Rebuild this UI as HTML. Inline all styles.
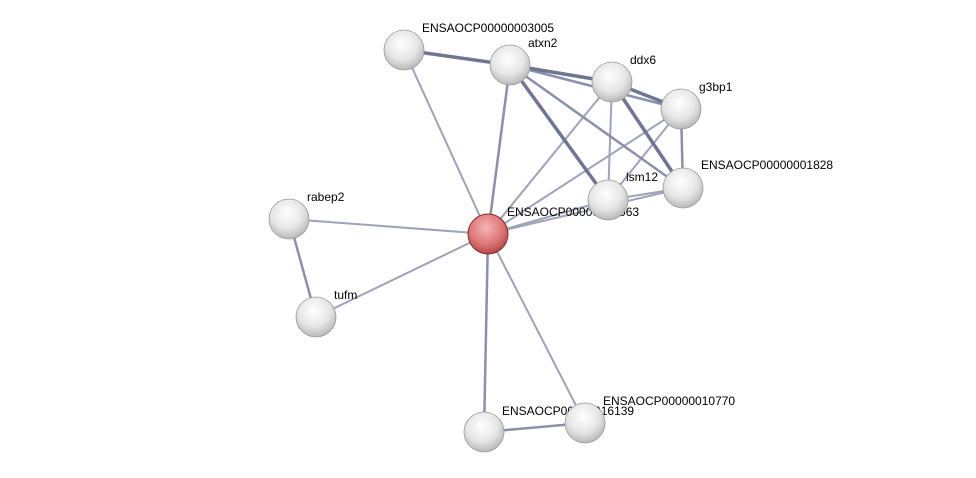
<!DOCTYPE html>
<html><head><meta charset="utf-8"><style>
html,body{margin:0;padding:0;background:#fff;width:976px;height:478px;overflow:hidden}
text{font-family:"Liberation Sans",sans-serif;font-size:12px;fill:#000}
</style></head><body>
<svg width="976" height="478" viewBox="0 0 976 478" xmlns="http://www.w3.org/2000/svg">
<defs>
<radialGradient id="g" cx="0.45" cy="0.35" r="0.65">
<stop offset="0" stop-color="#ffffff"/><stop offset="0.6" stop-color="#e6e6e6"/><stop offset="1" stop-color="#b8b8b8"/>
</radialGradient>
<radialGradient id="r" cx="0.45" cy="0.35" r="0.65">
<stop offset="0" stop-color="#f4b4b4"/><stop offset="0.6" stop-color="#e07a7a"/><stop offset="1" stop-color="#b54848"/>
</radialGradient>
</defs>
<g stroke-linecap="round">
<g stroke="#9da3b8" stroke-width="2">
<line x1="488" y1="234" x2="404" y2="50"/>
<line x1="488" y1="234" x2="289" y2="219"/>
<line x1="488" y1="234" x2="585" y2="423"/>
<line x1="488" y1="234" x2="316" y2="317"/>
<line x1="488" y1="234" x2="612" y2="82"/>
<line x1="488" y1="234" x2="681" y2="109"/>
<line x1="488" y1="234" x2="683" y2="188"/>
<line x1="488" y1="234" x2="608" y2="200"/>
<line x1="612" y1="82" x2="608" y2="200"/>
<line x1="681" y1="109" x2="608" y2="200"/>
<line x1="608" y1="200" x2="683" y2="188"/>
</g>
<g stroke="#8a90aa" stroke-width="2.5">
<line x1="488" y1="234" x2="510" y2="65"/>
<line x1="488" y1="234" x2="484" y2="432"/>
<line x1="289" y1="219" x2="316" y2="317"/>
<line x1="510" y1="65" x2="683" y2="188"/>
<line x1="510" y1="65" x2="681" y2="109"/>
<line x1="681" y1="109" x2="683" y2="188"/>
<line x1="484" y1="432" x2="585" y2="423"/>
</g>
<g stroke="#6f7592" stroke-width="3.5">
<line x1="404" y1="50" x2="510" y2="65"/>
<line x1="510" y1="65" x2="612" y2="82"/>
<line x1="612" y1="82" x2="681" y2="109"/>
<line x1="510" y1="65" x2="608" y2="200"/>
<line x1="612" y1="82" x2="683" y2="188"/>
</g>
</g>
<text x="507" y="216">ENSAOCP00000016963</text>
<text x="502" y="415">ENSAOCP00000016139</text>
<g>
<circle cx="404" cy="50" r="20" fill="url(#g)" stroke="#999" stroke-width="0.8"/>
<circle cx="510" cy="65" r="20" fill="url(#g)" stroke="#999" stroke-width="0.8"/>
<circle cx="612" cy="82" r="20" fill="url(#g)" stroke="#999" stroke-width="0.8"/>
<circle cx="681" cy="109" r="20" fill="url(#g)" stroke="#999" stroke-width="0.8"/>
<circle cx="683" cy="188" r="20" fill="url(#g)" stroke="#999" stroke-width="0.8"/>
<circle cx="608" cy="200" r="20" fill="url(#g)" stroke="#999" stroke-width="0.8"/>
<circle cx="289" cy="219" r="20" fill="url(#g)" stroke="#999" stroke-width="0.8"/>
<circle cx="316" cy="317" r="20" fill="url(#g)" stroke="#999" stroke-width="0.8"/>
<circle cx="484" cy="432" r="20" fill="url(#g)" stroke="#999" stroke-width="0.8"/>
<circle cx="585" cy="423" r="20" fill="url(#g)" stroke="#999" stroke-width="0.8"/>
<circle cx="488" cy="234" r="20" fill="url(#r)" stroke="#8a2a2a" stroke-width="1"/>
</g>
<text x="422" y="32">ENSAOCP00000003005</text>
<text x="528" y="47">atxn2</text>
<text x="630" y="64">ddx6</text>
<text x="699" y="91">g3bp1</text>
<text x="701" y="169">ENSAOCP00000001828</text>
<text x="626" y="181">lsm12</text>
<text x="307" y="201">rabep2</text>
<text x="334" y="299">tufm</text>
<text x="603" y="405">ENSAOCP00000010770</text>
</svg>
</body></html>
